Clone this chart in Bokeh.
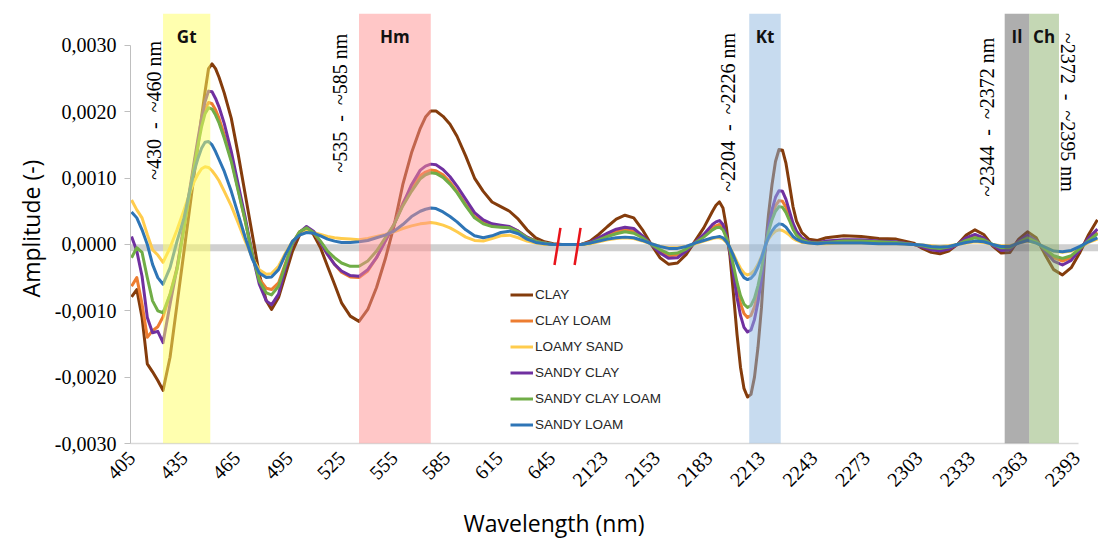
import math
import numpy as np
from bokeh.plotting import figure
from bokeh.models import (FixedTicker, CustomJSTickFormatter, Span, Label,
                          BoxAnnotation, Range1d, Title)
from bokeh.embed import file_html
from bokeh.resources import INLINE

# ---------------- data ----------------
vis_wl = [405, 408, 411, 414, 417, 420, 423,
          427, 431, 435, 439, 441, 443, 445, 447, 449, 451, 453, 455, 458, 462,
          466, 470, 474, 478, 482, 485, 489, 493, 497, 501, 505,
          509, 513, 517, 521, 525, 530, 535, 540, 545, 550, 555, 560, 565, 570,
          573, 576, 579, 583, 587, 591, 596, 601, 606, 611, 616, 621, 626, 631, 636, 641,
          646, 651, 656, 660]
swir_wl = [2110, 2115, 2120, 2125, 2130, 2135, 2140, 2145, 2150, 2155, 2160, 2165, 2170, 2175, 2180,
           2185, 2187, 2189, 2191, 2193, 2195, 2197, 2199, 2201, 2203, 2205, 2207, 2209, 2211,
           2213, 2215, 2217, 2219, 2221, 2223, 2225, 2227, 2229, 2231, 2233, 2236, 2240,
           2245, 2250, 2260, 2270, 2280, 2290, 2300,
           2305, 2310, 2315, 2320, 2325, 2330, 2335, 2340, 2345, 2350, 2355, 2360, 2365,
           2370, 2375, 2380, 2385, 2390, 2395, 2400, 2405]

clay_vis = [-0.00079, -0.00068, -0.00110, -0.00180, -0.00192, -0.00205, -0.00220,
            -0.00170, -0.00090, -0.00010, 0.00070, 0.00110, 0.00150, 0.00192, 0.00230, 0.00265,
            0.00272, 0.00265, 0.00252, 0.00228, 0.00190,
            0.00135, 0.00075, 0.00015, -0.00045, -0.00085, -0.00098, -0.00080, -0.00045, -0.00010,
            0.00014, 0.00026,
            0.00015, -0.00005, -0.00033, -0.00060, -0.00088, -0.00108, -0.00116, -0.00098, -0.00065,
            -0.00022, 0.00028, 0.00090, 0.00138, 0.00175,
            0.00192, 0.00201, 0.00201, 0.00193, 0.00181, 0.00163, 0.00133, 0.00100, 0.00080, 0.00064,
            0.00057, 0.00050, 0.00038, 0.00022, 0.00010, 0.00004,
            0.00001, 0.0, 0.0, 0.0]
clay_loam_vis = [-0.00063, -0.00050, -0.00090, -0.00140, -0.00130, -0.00124, -0.00109,
                 -0.00075, -0.00035, 0.00025, 0.00090, 0.00123, 0.00155, 0.00183, 0.00203, 0.00214,
                 0.00212, 0.00203, 0.00190, 0.00165, 0.00128,
                 0.00082, 0.00035, -0.00015, -0.00052, -0.00066, -0.00068, -0.00058, -0.00028, 0.00002,
                 0.00019, 0.00025,
                 0.00018, 0.00003, -0.00015, -0.00030, -0.00042, -0.00049, -0.00050, -0.00040, -0.00020,
                 0.00005, 0.00030, 0.00062, 0.00086, 0.00104,
                 0.00109, 0.00112, 0.00111, 0.00105, 0.00094, 0.00080, 0.00060, 0.00042, 0.00033, 0.00029,
                 0.00027, 0.00026, 0.00020, 0.00011, 0.00005, 0.00002,
                 0.0, 0.0, 0.0, 0.0]
loamy_sand_vis = [0.00067, 0.00052, 0.00040, 0.00015, -0.00008, -0.00016, -0.00027,
                  -0.00005, 0.00022, 0.00052, 0.00083, 0.00096, 0.00106, 0.00114, 0.00117, 0.00116,
                  0.00111, 0.00104, 0.00096, 0.00080, 0.00058,
                  0.00032, 0.00005, -0.00020, -0.00038, -0.00045, -0.00044, -0.00033, -0.00013, 0.00005,
                  0.00015, 0.00020,
                  0.00018, 0.00015, 0.00012, 0.00010, 0.00009, 0.00008, 0.00007, 0.00009, 0.00012,
                  0.00015, 0.00019, 0.00024, 0.00028, 0.00031,
                  0.00032, 0.00033, 0.00032, 0.00029, 0.00025, 0.00019, 0.00011, 0.00006, 0.00005, 0.00009,
                  0.00013, 0.00014, 0.00010, 0.00005, 0.00002, 0.0,
                  0.0, 0.0, 0.0, 0.0]
sandy_clay_vis = [0.00012, -0.00010, -0.00048, -0.00110, -0.00133, -0.00131, -0.00148,
                  -0.00090, -0.00035, 0.00030, 0.00095, 0.00128, 0.00160, 0.00190, 0.00215, 0.00231,
                  0.00230, 0.00220, 0.00207, 0.00182, 0.00140,
                  0.00090, 0.00040, -0.00015, -0.00060, -0.00085, -0.00091, -0.00075, -0.00035, 0.0,
                  0.00018, 0.00027,
                  0.00020, 0.00003, -0.00015, -0.00030, -0.00040, -0.00047, -0.00048, -0.00038, -0.00020,
                  0.00005, 0.00030, 0.00060, 0.00090, 0.00112,
                  0.00118, 0.00121, 0.00120, 0.00113, 0.00102, 0.00088, 0.00068, 0.00048, 0.00037, 0.00031,
                  0.00029, 0.00027, 0.00020, 0.00011, 0.00005, 0.00002,
                  0.0, 0.0, 0.0, 0.0]
sandy_clay_loam_vis = [-0.00020, -0.00005, -0.00012, -0.00050, -0.00085, -0.00100, -0.00103,
                       -0.00075, -0.00038, 0.00025, 0.00090, 0.00120, 0.00150, 0.00177, 0.00197, 0.00206,
                       0.00204, 0.00195, 0.00183, 0.00160, 0.00125,
                       0.00080, 0.00035, -0.00015, -0.00055, -0.00073, -0.00076, -0.00063, -0.00030, 0.00002,
                       0.00019, 0.00025,
                       0.00018, 0.00005, -0.00010, -0.00020, -0.00028, -0.00033, -0.00033, -0.00025, -0.00010,
                       0.00010, 0.00030, 0.00058, 0.00080, 0.00099,
                       0.00105, 0.00108, 0.00107, 0.00101, 0.00091, 0.00078, 0.00058, 0.00040, 0.00031, 0.00027,
                       0.00026, 0.00025, 0.00019, 0.00010, 0.00005, 0.00002,
                       0.0, 0.0, 0.0, 0.0]
sandy_loam_vis = [0.00049, 0.00040, 0.00022, 0.0, -0.00030, -0.00050, -0.00060,
                  -0.00035, 0.00005, 0.00040, 0.00090, 0.00112, 0.00130, 0.00145, 0.00154, 0.00155,
                  0.00150, 0.00140, 0.00128, 0.00110, 0.00080,
                  0.00045, 0.00010, -0.00022, -0.00043, -0.00050, -0.00049, -0.00038, -0.00015, 0.00005,
                  0.00014, 0.00018,
                  0.00017, 0.00013, 0.00008, 0.00005, 0.00003, 0.00003, 0.00004, 0.00006, 0.00010,
                  0.00014, 0.00020, 0.00030, 0.00042, 0.00050,
                  0.00053, 0.00055, 0.00054, 0.00049, 0.00042, 0.00034, 0.00022, 0.00013, 0.00010, 0.00013,
                  0.00018, 0.00020, 0.00016, 0.00008, 0.00003, 0.00001,
                  0.0, 0.0, 0.0, 0.0]

clay_swir = [0.0, 0.00005, 0.00015, 0.00027, 0.00038, 0.00044, 0.00040, 0.00022, 0.0, -0.00020,
             -0.00030, -0.00028, -0.00015, 0.00005, 0.00025,
             0.00050, 0.00059, 0.00064, 0.00055, 0.00025, -0.00018, -0.00075, -0.00135, -0.00185,
             -0.00217, -0.00230, -0.00226, -0.00200, -0.00155, -0.00095, -0.00012, 0.00045, 0.00090,
             0.00125, 0.00143, 0.00142, 0.00122, 0.00090, 0.00057, 0.00035, 0.00018, 0.00008,
             0.00006, 0.00010, 0.00013, 0.00012, 0.00009, 0.00008, 0.00002,
             -0.00006, -0.00012, -0.00014, -0.00010, 0.0, 0.00014, 0.00022, 0.00015, -0.00002, -0.00013,
             -0.00012, 0.00008, 0.00019, 0.00010, -0.00015, -0.00038, -0.00046, -0.00035, -0.00012,
             0.00015, 0.00037]
clay_loam_swir = [0.0, 0.00003, 0.00008, 0.00014, 0.00019, 0.00022, 0.00020, 0.00011, 0.0, -0.00010,
                  -0.00017, -0.00016, -0.00008, 0.00003, 0.00013,
                  0.00025, 0.00028, 0.00030, 0.00025, 0.00011, -0.00010, -0.00037, -0.00066, -0.00089,
                  -0.00104, -0.00110, -0.00107, -0.00094, -0.00072, -0.00043, -0.00006, 0.00022, 0.00043,
                  0.00058, 0.00066, 0.00065, 0.00056, 0.00041, 0.00026, 0.00016, 0.00008, 0.00003,
                  0.00002, 0.00004, 0.00006, 0.00006, 0.00004, 0.00003, 0.0,
                  -0.00003, -0.00007, -0.00008, -0.00006, 0.0, 0.00008, 0.00012, 0.00008, -0.00001, -0.00007,
                  -0.00006, 0.00004, 0.00012, 0.00005, -0.00008, -0.00020, -0.00025, -0.00020, -0.00007,
                  0.00008, 0.00018]
loamy_sand_swir = [0.0, 0.00001, 0.00004, 0.00007, 0.00009, 0.00010, 0.00009, 0.00005, 0.00001, -0.00003,
                   -0.00005, -0.00005, -0.00003, 0.00001, 0.00005,
                   0.00009, 0.00010, 0.00010, 0.00008, 0.00003, -0.00005, -0.00015, -0.00026, -0.00036,
                   -0.00043, -0.00046, -0.00044, -0.00039, -0.00030, -0.00018, -0.00003, 0.00008, 0.00015,
                   0.00020, 0.00022, 0.00021, 0.00018, 0.00014, 0.00009, 0.00006, 0.00003, 0.00002,
                   0.00001, 0.00001, 0.00002, 0.00002, 0.00001, 0.00001, 0.0,
                   -0.00001, -0.00002, -0.00003, -0.00002, 0.0, 0.00002, 0.00004, 0.00003, 0.0, -0.00002,
                   -0.00002, 0.00002, 0.00005, 0.00002, -0.00004, -0.00010, -0.00012, -0.00010, -0.00004,
                   0.00003, 0.00008]
sandy_clay_swir = [0.0, 0.00003, 0.00010, 0.00017, 0.00023, 0.00026, 0.00024, 0.00013, 0.0, -0.00013,
                   -0.00021, -0.00020, -0.00010, 0.00003, 0.00015,
                   0.00030, 0.00034, 0.00036, 0.00030, 0.00013, -0.00012, -0.00045, -0.00080, -0.00107,
                   -0.00125, -0.00132, -0.00129, -0.00113, -0.00087, -0.00052, -0.00008, 0.00026, 0.00052,
                   0.00071, 0.00081, 0.00080, 0.00068, 0.00050, 0.00032, 0.00020, 0.00010, 0.00004,
                   0.00003, 0.00005, 0.00007, 0.00007, 0.00005, 0.00004, 0.0,
                   -0.00004, -0.00008, -0.00010, -0.00007, 0.0, 0.00010, 0.00015, 0.00010, -0.00001, -0.00009,
                   -0.00008, 0.00005, 0.00014, 0.00006, -0.00010, -0.00025, -0.00031, -0.00024, -0.00008,
                   0.00010, 0.00023]
sandy_clay_loam_swir = [0.0, 0.00002, 0.00007, 0.00012, 0.00016, 0.00019, 0.00017, 0.00010, 0.0, -0.00008,
                        -0.00014, -0.00013, -0.00007, 0.00002, 0.00011,
                        0.00022, 0.00025, 0.00026, 0.00022, 0.00010, -0.00008, -0.00032, -0.00057, -0.00077,
                        -0.00090, -0.00095, -0.00092, -0.00081, -0.00062, -0.00037, -0.00005, 0.00019, 0.00037,
                        0.00050, 0.00057, 0.00056, 0.00048, 0.00036, 0.00023, 0.00014, 0.00007, 0.00003,
                        0.00002, 0.00003, 0.00005, 0.00005, 0.00004, 0.00003, 0.0,
                        -0.00002, -0.00005, -0.00006, -0.00004, 0.0, 0.00006, 0.00010, 0.00007, 0.0, -0.00005,
                        -0.00005, 0.00003, 0.00010, 0.00004, -0.00007, -0.00017, -0.00021, -0.00017, -0.00006,
                        0.00006, 0.00016]
sandy_loam_swir = [0.0, 0.00002, 0.00005, 0.00008, 0.00010, 0.00011, 0.00010, 0.00006, 0.00001, -0.00003,
                   -0.00006, -0.00006, -0.00003, 0.00002, 0.00006,
                   0.00010, 0.00011, 0.00012, 0.00010, 0.00004, -0.00005, -0.00017, -0.00030, -0.00042,
                   -0.00050, -0.00053, -0.00051, -0.00045, -0.00034, -0.00020, -0.00003, 0.00010, 0.00020,
                   0.00027, 0.00031, 0.00030, 0.00026, 0.00019, 0.00012, 0.00008, 0.00004, 0.00002,
                   0.00001, 0.00002, 0.00002, 0.00002, 0.00001, 0.00001, 0.0,
                   -0.00001, -0.00003, -0.00004, -0.00003, 0.0, 0.00003, 0.00005, 0.00004, 0.0, -0.00003,
                   -0.00003, 0.00002, 0.00006, 0.00002, -0.00004, -0.00010, -0.00011, -0.00009, -0.00003,
                   0.00004, 0.00010]

series_names = ["CLAY", "CLAY LOAM", "LOAMY SAND", "SANDY CLAY", "SANDY CLAY LOAM", "SANDY LOAM"]
series_colors = ["#843C0C", "#ED7D31", "#FFCC4D", "#7030A0", "#70AD47", "#2E75B6"]
series_vis = [clay_vis, clay_loam_vis, loamy_sand_vis, sandy_clay_vis, sandy_clay_loam_vis, sandy_loam_vis]
series_swir = [clay_swir, clay_loam_swir, loamy_sand_swir, sandy_clay_swir, sandy_clay_loam_swir, sandy_loam_swir]

vis_tick_labels = [405, 435, 465, 495, 525, 555, 585, 615, 645]
swir_tick_labels = [2123, 2153, 2183, 2213, 2243, 2273, 2303, 2333, 2363, 2393]
y_ticks = [-0.003, -0.002, -0.001, 0.0, 0.001, 0.002, 0.003]

# absorption bands (as drawn): name, start, end, colour
band_names = ["Gt", "Hm", "Kt", "Il", "Ch"]
band_start = [423, 535, 2206, 2352, 2366]
band_end = [450, 576, 2224, 2366, 2383]
band_colors = ["#FFFF60", "#FF8F8F", "#8FB8DF", "#5E5E5E", "#8AAF6A"]

range_texts = ["~430  -  ~460 nm", "~535  -  ~585 nm", "~2204  -  ~2226 nm",
               "~2344  -  ~2372 nm", "~2372  -  ~2395 nm"]
range_text_wl = [417.6, 524.4, 2193.6, 2342.1, 2388.4]
range_text_y = [0.00202, 0.00213, 0.00199, 0.00192, 0.00199]
range_text_angle = [math.pi / 2, math.pi / 2, math.pi / 2, math.pi / 2, -math.pi / 2]


# broken axis: 405-660 nm, then 2123 nm placed 30 categories after 645 nm
def pos(wl):
    wl = np.asarray(wl, dtype=float)
    return np.where(wl < 1000, wl - 405.0, wl - 2123.0 + 270.0)


p = figure(width=1098, height=547, output_backend="svg", toolbar_location=None,
           x_range=Range1d(-0.6, 552.6), y_range=Range1d(-0.003, 0.00348),
           min_border_left=130, min_border_right=0, min_border_top=13,
           min_border_bottom=103)
p.outline_line_color = None
p.grid.visible = False
p.background_fill_color = "white"

# zero reference band
p.add_layout(Span(location=-0.00005, dimension="width", line_color="#C4C4C4",
                  line_width=7, line_alpha=0.8, level="underlay"))

for name, col, v, s in zip(series_names, series_colors, series_vis, series_swir):
    xs = np.concatenate([pos(vis_wl), pos(swir_wl)])
    ys = np.concatenate([np.asarray(v), np.asarray(s)])
    p.line(xs, ys, line_color=col, line_width=3, line_join="round", legend_label=name)

# translucent band overlays
for nm, b0, b1, bc in zip(band_names, band_start, band_end, band_colors):
    p.add_layout(BoxAnnotation(left=float(pos(b0)), right=float(pos(b1)),
                               fill_color=bc, fill_alpha=0.5, line_color=None))
    p.add_layout(Label(x=float(pos((b0 + b1) / 2)), y=0.003135, text=nm,
                       text_font="Open Sans", text_font_style="bold",
                       text_font_size="17px", text_align="center",
                       text_baseline="middle", text_color="#111111"))

for t, wl, yy, ang in zip(range_texts, range_text_wl, range_text_y, range_text_angle):
    p.add_layout(Label(x=float(pos(wl)), y=yy, text=t.replace("  ", " \u00a0"),
                       angle=ang, text_font="Liberation Serif", text_font_size="20px",
                       text_align="center", text_baseline="middle", text_color="#000000"))

# axis break marks
brk = [243.4, 254.9]
p.segment(x0=[b - 1.7 for b in brk], y0=[-0.00031] * 2,
          x1=[b + 1.7 for b in brk], y1=[0.00025] * 2,
          line_color="#E8141B", line_width=2.5)

# x axis
all_ticks = vis_tick_labels + swir_tick_labels
tick_pos = [int(v) for v in pos(all_ticks)]
p.xaxis.ticker = FixedTicker(ticks=tick_pos)
p.xaxis.major_label_overrides = {tp: str(l) for tp, l in zip(tick_pos, all_ticks)}
p.xaxis.major_label_orientation = math.pi / 4
p.xaxis.bounds = (-0.6, 541)
p.xaxis.axis_line_color = "#D9D9D9"
p.xaxis.axis_line_width = 1.5
p.xaxis.major_tick_line_color = None
p.xaxis.minor_tick_line_color = None
p.xaxis.major_label_text_font = "Liberation Serif"
p.xaxis.major_label_text_font_size = "20px"
p.xaxis.major_label_text_color = "#000000"
p.xaxis.major_label_standoff = 5

# y axis
p.yaxis.ticker = FixedTicker(ticks=y_ticks)
p.yaxis.formatter = CustomJSTickFormatter(code="return tick.toFixed(4).replace('.', ',');")
p.yaxis.bounds = (-0.003, 0.003)
p.yaxis.axis_line_color = "#BFBFBF"
p.yaxis.major_tick_line_color = "#BFBFBF"
p.yaxis.major_tick_out = 6
p.yaxis.major_tick_in = 0
p.yaxis.minor_tick_line_color = None
p.yaxis.major_label_text_font = "Liberation Serif"
p.yaxis.major_label_text_font_size = "20px"
p.yaxis.major_label_text_color = "#000000"
p.yaxis.major_label_standoff = 8

# axis titles
p.add_layout(Title(text="Wavelength (nm)", align="left", offset=333, standoff=18,
                   text_font="Open Sans", text_font_size="23px",
                   text_font_style="normal", text_color="#000000"), "below")
p.add_layout(Title(text="Amplitude (-)", align="center", offset=-12, standoff=10,
                   text_font="Open Sans", text_font_size="23px",
                   text_font_style="normal", text_color="#000000"), "left")

leg = p.legend[0]
leg.location = (380, 8)
leg.label_text_font = "Liberation Sans"
leg.label_text_font_size = "13.5px"
leg.label_text_color = "#262626"
leg.glyph_width = 23
leg.glyph_height = 21
leg.label_height = 21
leg.spacing = 5
leg.padding = 0
leg.margin = 0
leg.label_standoff = 2
leg.border_line_color = None
leg.background_fill_alpha = 0

open("out.html", "w").write(file_html(p, INLINE))
